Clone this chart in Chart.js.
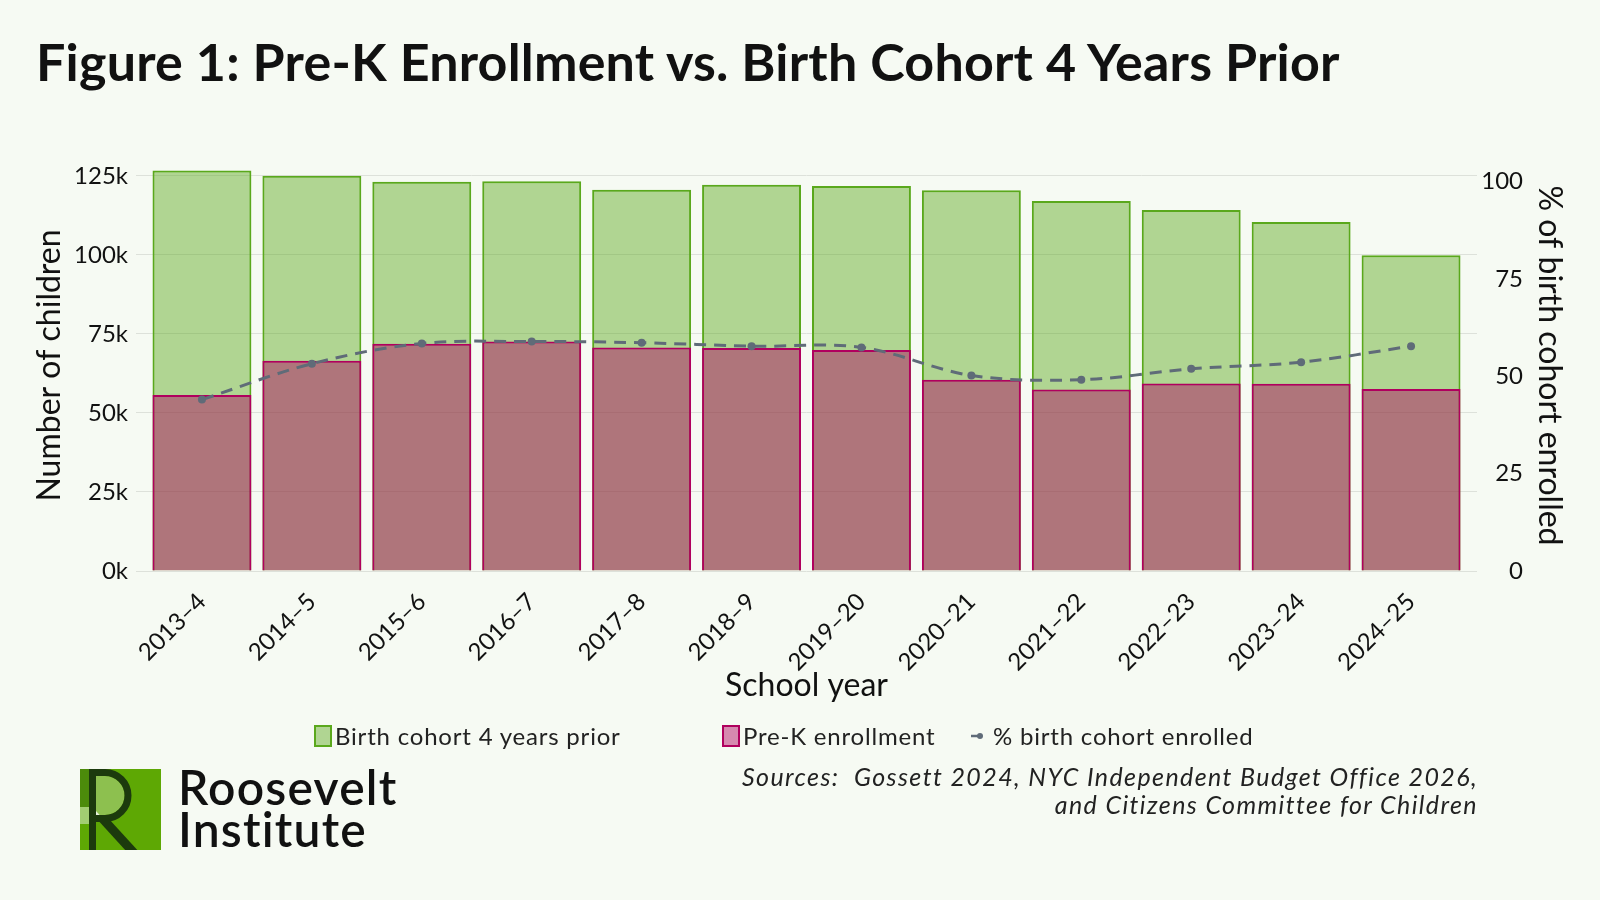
<!DOCTYPE html>
<html>
<head>
<meta charset="utf-8">
<script src="https://cdn.jsdelivr.net/npm/chart.js@4/dist/chart.umd.min.js"></script>
<style>
  html, body { margin: 0; padding: 0; }
  body { width: 1600px; height: 900px; background: #f6faf3; position: relative; overflow: hidden; font-family: Lato, sans-serif; color: #111; }
  #chart { position: absolute; left: 0; top: 0; }
  .title { position: absolute; left: 36px; top: 31px; font-size: 52px; line-height: 60px; font-weight: 700; letter-spacing: 0.2px; white-space: nowrap; }
  .legend { position: absolute; top: 721px; font-size: 24px; line-height: 29px; letter-spacing: 0.8px; white-space: nowrap; color: #222; }
  .key { position: absolute; top: 725px; width: 14px; height: 18px; border: 2px solid; }
  .sources { position: absolute; right: 122px; top: 762px; font-size: 25px; line-height: 28px; letter-spacing: 1.4px; font-style: italic; text-align: right; color: #222; }
  .logo { position: absolute; left: 80px; top: 769px; }
  .logotext { position: absolute; left: 178px; top: 766px; font-size: 48px; line-height: 42px; font-weight: 600; letter-spacing: 1.2px; color: #111; }
</style>
</head>
<body>
<canvas id="chart" width="1600" height="900"></canvas>
<div class="title">Figure 1: Pre-K Enrollment vs. Birth Cohort 4 Years Prior</div>

<div class="key" style="left:314px; background:rgba(90,168,28,0.45); border-color:#5aa81c;"></div>
<div class="legend" style="left:335px;">Birth cohort 4 years prior</div>
<div class="key" style="left:722px; background:rgba(176,0,94,0.45); border-color:#b0005e;"></div>
<div class="legend" style="left:743px;">Pre-K enrollment</div>
<svg style="position:absolute; left:970px; top:730px;" width="16" height="12">
  <line x1="1" y1="6" x2="12" y2="6" stroke="#5f6b78" stroke-width="2.5"/>
  <circle cx="10" cy="6" r="3" fill="#5f6b78"/>
</svg>
<div class="legend" style="left:993px;">% birth cohort enrolled</div>

<div class="sources">Sources:&nbsp; Gossett 2024, NYC Independent Budget Office 2026,<br>and Citizens Committee for Children</div>

<svg class="logo" width="81" height="81" viewBox="0 0 81 81">
  <rect width="81" height="81" fill="#5ea804"/>
  <rect x="0" y="0" width="9" height="38" fill="#4c8b0b"/>
  <rect x="0" y="38" width="9" height="17" fill="#a2cd72"/>
  <path d="M16 7 H25 A19.5 19.5 0 0 1 25 46 H16 Z" fill="#8dc04f"/>
  <polygon points="16,42 26,53 16,53" fill="#e8f2dc"/>
  <rect x="9" y="0" width="7" height="81" fill="#1c3a0d"/>
  <path d="M12 3.5 H25 A23 23 0 0 1 25 49.5 H12" fill="none" stroke="#1c3a0d" stroke-width="7"/>
  <line x1="22" y1="49" x2="54" y2="84" stroke="#1c3a0d" stroke-width="9"/>
</svg>
<div class="logotext">Roosevelt<br>Institute</div>

<script>
'use strict';

var schoolYears = ['2013–4', '2014–5', '2015–6', '2016–7', '2017–8', '2018–9',
  '2019–20', '2020–21', '2021–22', '2022–23', '2023–24', '2024–25'];
var birthCohort = [126700, 125000, 123100, 123300, 120600, 122200,
  121800, 120400, 117000, 114200, 110400, 99900];
var preKEnrollment = [55700, 66500, 71900, 72600, 70700, 70500,
  69900, 60500, 57400, 59300, 59200, 57600];
var pctEnrolled = [44.0, 53.2, 58.4, 58.9, 58.6, 57.7,
  57.4, 50.2, 49.1, 51.9, 53.6, 57.7];
var childTicks = [0, 25000, 50000, 75000, 100000, 125000];
var pctTicks = [0, 25, 50, 75, 100];

var toPoints = function (values) {
  return values.map(function (v, i) { return { x: i, y: v }; });
};

var setTicks = function (values) {
  return function (scale) {
    scale.ticks = values.map(function (v) { return { value: v }; });
  };
};

Chart.defaults.font.family = 'Lato, sans-serif';
Chart.defaults.color = '#111';

var ctx = document.getElementById('chart').getContext('2d');
/* eslint-disable-next-line no-unused-vars */
var myChart = new Chart(ctx, {
  type: 'bar',
  data: {
    datasets: [
      {
        type: 'line',
        label: '% birth cohort enrolled',
        data: toPoints(pctEnrolled),
        yAxisID: 'y2',
        borderColor: '#5f6b78',
        backgroundColor: '#5f6b78',
        borderWidth: 3,
        borderDash: [12, 8],
        pointRadius: 4,
        pointBorderWidth: 0,
        tension: 0.35,
        order: 1,
      },
      {
        label: 'Pre-K enrollment',
        data: toPoints(preKEnrollment),
        yAxisID: 'y',
        backgroundColor: 'rgba(176,0,94,0.45)',
        borderColor: '#b0005e',
        borderWidth: 2,
        grouped: false,
        barPercentage: 0.9,
        categoryPercentage: 1,
        order: 2,
      },
      {
        label: 'Birth cohort 4 years prior',
        data: toPoints(birthCohort),
        yAxisID: 'y',
        backgroundColor: 'rgba(90,168,28,0.45)',
        borderColor: '#5aa81c',
        borderWidth: 2,
        grouped: false,
        barPercentage: 0.9,
        categoryPercentage: 1,
        order: 3,
      },
    ],
  },
  options: {
    responsive: false,
    animation: false,
    layout: {
      padding: { top: 160, left: 0, right: 77, bottom: 0 },
    },
    plugins: {
      legend: { display: false },
      tooltip: { enabled: false },
    },
    scales: {
      x: {
        type: 'linear',
        offset: false,
        min: -0.6,
        max: 11.6,
        afterBuildTicks: setTicks(schoolYears.map(function (s, i) { return i; })),
        afterFit: function (s) { s.height = 329; },
        grid: { display: false, drawTicks: false },
        border: { display: false },
        ticks: {
          autoSkip: false,
          minRotation: 45,
          maxRotation: 45,
          padding: 13,
          font: { size: 24, lineHeight: 1.6 },
          color: '#111',
          callback: function (v) { return schoolYears[v]; },
        },
        title: {
          display: true,
          text: 'School year',
          font: { size: 32 },
          color: '#111',
          padding: { top: 0, bottom: 195 },
        },
      },
      y: {
        position: 'left',
        min: 0,
        max: 130000,
        afterBuildTicks: setTicks(childTicks),
        afterFit: function (s) { s.width = 136; },
        grid: { color: '#dde1da', lineWidth: 1, drawTicks: false },
        border: { display: false },
        ticks: {
          padding: 8,
          font: { size: 24 },
          color: '#111',
          callback: function (v) { return (v / 1000) + 'k'; },
        },
        title: {
          display: true,
          text: 'Number of children',
          font: { size: 32 },
          color: '#111',
          padding: { top: 30, bottom: 0 },
        },
      },
      y2: {
        position: 'right',
        min: 0,
        max: 105.5,
        afterBuildTicks: setTicks(pctTicks),
        afterFit: function (s) { s.width = 46; },
        grid: { display: false, drawTicks: false },
        border: { display: false },
        ticks: {
          crossAlign: 'far',
          padding: 5,
          font: { size: 24 },
          color: '#111',
        },
        title: {
          display: true,
          text: '% of birth cohort enrolled',
          font: { size: 32 },
          color: '#111',
          padding: { top: -46, bottom: 0 },
        },
      },
    },
  },
});
</script>
</body>
</html>
